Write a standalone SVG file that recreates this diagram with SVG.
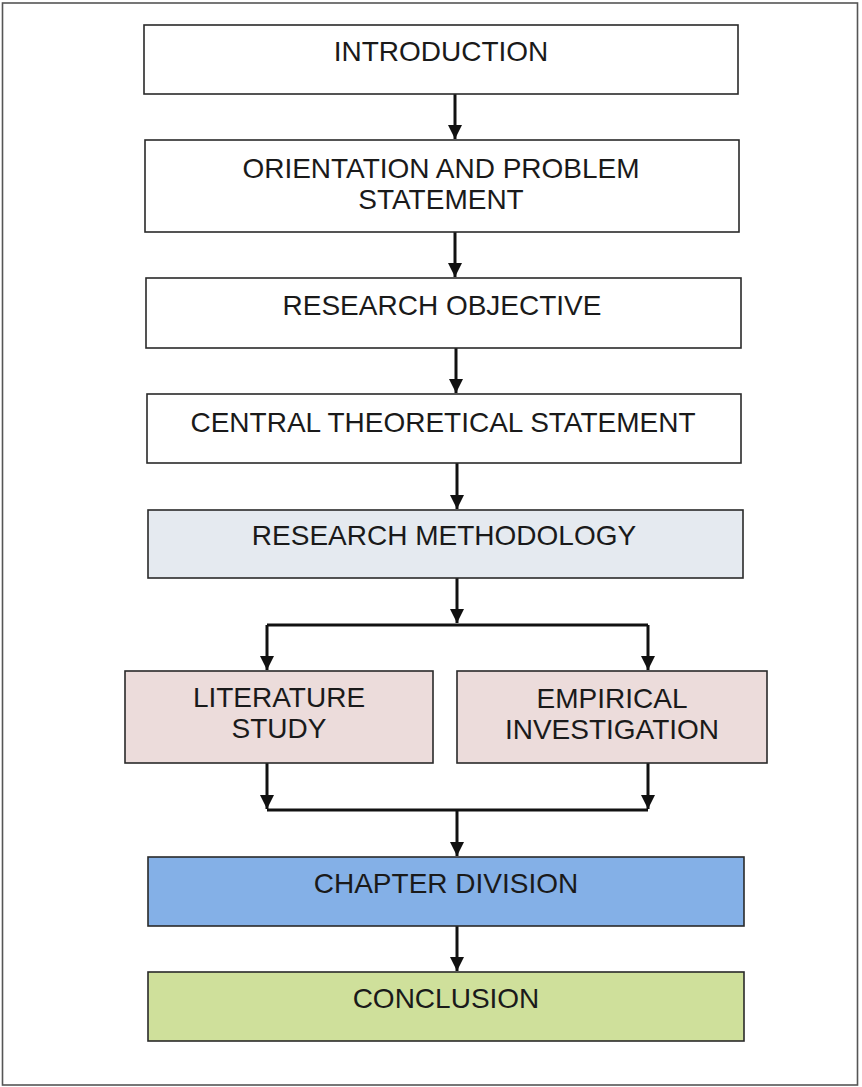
<svg xmlns="http://www.w3.org/2000/svg" width="862" height="1087" viewBox="0 0 862 1087">
  <style>
    .box { stroke: #2a2a2a; stroke-width: 1.6; }
    .plain { fill: #ffffff; }
    .method { fill: #e5eaf0; }
    .side { fill: #ecdcdb; }
    .chapter { fill: #84b0e7; }
    .concl { fill: #cfe09b; }
    .lbl { font-family: "Liberation Sans", Arial, sans-serif; font-size: 28px; fill: #1a1a1a; text-anchor: middle; }
    .conn { fill: none; stroke: #111; stroke-width: 3; }
  </style>
  <defs>
    <marker id="ah" markerUnits="userSpaceOnUse" markerWidth="14" markerHeight="16" refX="14" refY="7" orient="auto">
      <path d="M0,0 L14,7 L0,14 Z" fill="#111"/>
    </marker>
  </defs>
  <rect x="0" y="0" width="862" height="1087" fill="#ffffff"/>
  <rect x="2.5" y="3" width="855" height="1082" fill="none" stroke="#555" stroke-width="1.6"/>

  <g id="connectors">
    <path class="conn" d="M455,94 V139" marker-end="url(#ah)"/>
    <path class="conn" d="M455,232 V277" marker-end="url(#ah)"/>
    <path class="conn" d="M456,348 V393" marker-end="url(#ah)"/>
    <path class="conn" d="M457,463 V509" marker-end="url(#ah)"/>
    <path class="conn" d="M457,578 V623" marker-end="url(#ah)"/>
    <path class="conn" d="M267,625 H648"/>
    <path class="conn" d="M267,625 V670" marker-end="url(#ah)"/>
    <path class="conn" d="M648,625 V670" marker-end="url(#ah)"/>
    <path class="conn" d="M267,763 V809" marker-end="url(#ah)"/>
    <path class="conn" d="M648,763 V809" marker-end="url(#ah)"/>
    <path class="conn" d="M267,810 H648"/>
    <path class="conn" d="M457,810 V856" marker-end="url(#ah)"/>
    <path class="conn" d="M457,926 V971" marker-end="url(#ah)"/>
  </g>

  <g id="introduction">
    <rect class="box plain" x="144" y="25" width="594" height="69"/>
    <text class="lbl" x="441" y="61">INTRODUCTION</text>
  </g>
  <g id="orientation">
    <rect class="box plain" x="145" y="140" width="594" height="92"/>
    <text class="lbl" x="441" y="178">ORIENTATION AND PROBLEM</text>
    <text class="lbl" x="441" y="209">STATEMENT</text>
  </g>
  <g id="research-objective">
    <rect class="box plain" x="146" y="278" width="595" height="70"/>
    <text class="lbl" x="442" y="315">RESEARCH OBJECTIVE</text>
  </g>
  <g id="central-theoretical-statement">
    <rect class="box plain" x="147" y="394" width="594" height="69"/>
    <text class="lbl" x="443" y="432">CENTRAL THEORETICAL STATEMENT</text>
  </g>
  <g id="research-methodology">
    <rect class="box method" x="148" y="510" width="595" height="68"/>
    <text class="lbl" x="444" y="545">RESEARCH METHODOLOGY</text>
  </g>
  <g id="literature-study">
    <rect class="box side" x="125" y="671" width="308" height="92"/>
    <text class="lbl" x="279" y="707">LITERATURE</text>
    <text class="lbl" x="279" y="738">STUDY</text>
  </g>
  <g id="empirical-investigation">
    <rect class="box side" x="457" y="671" width="310" height="92"/>
    <text class="lbl" x="612" y="708">EMPIRICAL</text>
    <text class="lbl" x="612" y="739">INVESTIGATION</text>
  </g>
  <g id="chapter-division">
    <rect class="box chapter" x="148" y="857" width="596" height="69"/>
    <text class="lbl" x="446" y="893">CHAPTER DIVISION</text>
  </g>
  <g id="conclusion">
    <rect class="box concl" x="148" y="972" width="596" height="69"/>
    <text class="lbl" x="446" y="1008">CONCLUSION</text>
  </g>
</svg>
